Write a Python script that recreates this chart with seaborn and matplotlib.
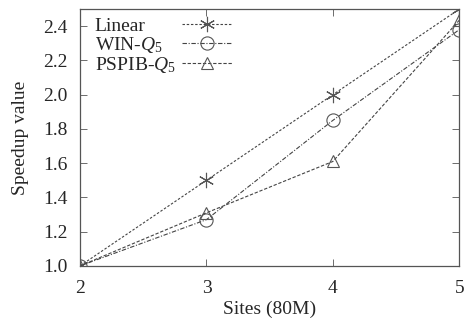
import matplotlib
matplotlib.use("Agg")
import matplotlib.pyplot as plt
import seaborn as sns
import pandas as pd

# === Data ===
sites = [2, 3, 4, 5]
linear = [1.0, 1.5, 2.0, 2.5]
win_q5 = [1.0, 1.27, 1.85, 2.38]
pspib_q5 = [1.0, 1.31, 1.61, 2.435]
yticks = [1.0, 1.2, 1.4, 1.6, 1.8, 2.0, 2.2, 2.4]

sns.set_style("ticks")
plt.rcParams["font.family"] = ["Liberation Serif", "DejaVu Serif"]
plt.rcParams["mathtext.fontset"] = "custom"
plt.rcParams["mathtext.it"] = "Liberation Serif:italic"
plt.rcParams["mathtext.rm"] = "Liberation Serif"

df = pd.DataFrame({
    "sites": sites * 3,
    "speedup": linear + win_q5 + pspib_q5,
    "series": ["Linear"] * 4 + ["WIN-$Q_5$"] * 4 + ["PSPIB-$Q_5$"] * 4,
})

fig, ax = plt.subplots(figsize=(4.71, 3.27), dpi=100)

styles = {
    "Linear": dict(marker=(6, 2, 0), ls=(0, (2.2, 1.6)), ms=11),
    "WIN-$Q_5$": dict(marker="o", ls=(0, (4, 1.5, 1, 1.5)), ms=9.5),
    "PSPIB-$Q_5$": dict(marker="^", ls=(0, (3, 1.6)), ms=9),
}
for name, st in styles.items():
    sub = df[df["series"] == name]
    sns.lineplot(data=sub, x="sites", y="speedup", ax=ax, label=name,
                 color="#444444", lw=0.8, linestyle=st["ls"],
                 marker=st["marker"], markersize=st["ms"],
                 markerfacecolor="none", markeredgecolor="#555555",
                 markeredgewidth=0.8)

ax.set_xlim(2, 5)
ax.set_ylim(1.0, 2.5)
ax.set_xticks(sites)
ax.set_yticks(yticks)
ax.set_yticklabels([f"{v:.1f}" for v in yticks])
ax.tick_params(direction="in", top=True, right=True, labelsize=14,
               length=5, width=0.6, color="#555555")
ax.tick_params(axis="x", pad=10)
ax.tick_params(axis="y", pad=9)
for sp in ax.spines.values():
    sp.set_visible(True)
    sp.set_linewidth(0.9)
    sp.set_color("#555555")
ax.set_xlabel("Sites (80M)", fontsize=14, labelpad=3)
ax.set_ylabel("Speedup value", fontsize=14, labelpad=10)

leg = ax.legend(loc="upper left", frameon=False, markerfirst=False,
                fontsize=14, handlelength=2.6, handletextpad=0.3,
                labelspacing=0.0, borderpad=0.1, borderaxespad=0.5,
                bbox_to_anchor=(0.008, 1.015))

fig.subplots_adjust(left=0.17, right=0.975, top=0.972, bottom=0.187)

# left-align legend labels while keeping the line samples in one column
fig.canvas.draw()
rend = fig.canvas.get_renderer()
widths = [t.get_window_extent(rend).width for t in leg.get_texts()]
col = leg._legend_handle_box.get_children()[0]
col.align = "left"
for row, w in zip(col.get_children(), widths):
    row.sep += (max(widths) - w) * 72 / fig.dpi

fig.savefig("out.png", dpi=100)
